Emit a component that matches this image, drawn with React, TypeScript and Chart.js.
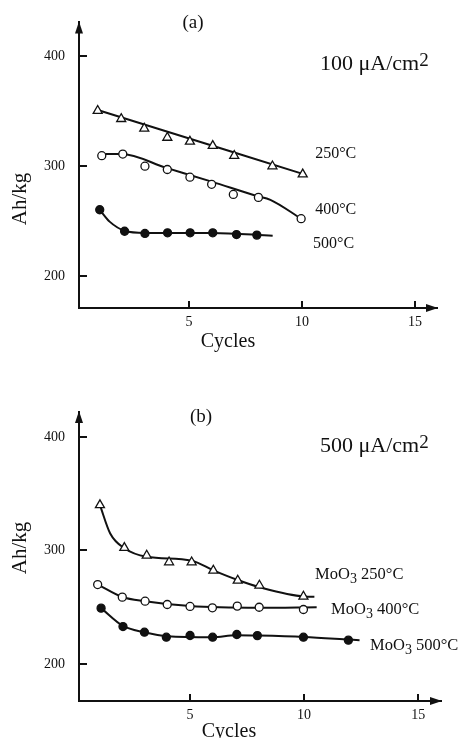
import React, { useEffect, useRef } from "react";
import { Chart, registerables } from "chart.js";

Chart.register(...registerables);

// ---------- data ----------
const xTicks = [5, 10, 15];
const yTicks = [200, 300, 400];

// Panel (a): 100 µA/cm²
const a250X = [0.96, 2.0, 3.02, 4.04, 5.04, 6.05, 7.0, 8.69, 10.03];
const a250Y = [350.3, 342.9, 334.2, 325.9, 322.3, 318.5, 309.5, 300.0, 292.6];
const a250CurveX = [0.96, 10.03];
const a250CurveY = [351, 293];

const a400X = [1.14, 2.07, 3.05, 4.04, 5.04, 6.0, 6.96, 8.07, 9.96];
const a400Y = [309.5, 311.0, 300.0, 297.0, 290.0, 283.6, 274.4, 271.7, 252.4];
const a400CurveX = [1.14, 2.0, 4.0, 6.0, 8.0, 8.6, 9.96];
const a400CurveY = [311, 311, 298.5, 286, 273, 269.5, 252.4];

const a500X = [1.05, 2.15, 3.05, 4.05, 5.05, 6.05, 7.1, 8.0];
const a500Y = [260.5, 241.0, 239.0, 239.6, 239.6, 239.6, 238.0, 237.5];
const a500CurveX = [1.05, 1.5, 2.15, 3.05, 6.0, 8.7];
const a500CurveY = [260.5, 249.5, 241.5, 239.5, 239.5, 237.0];

// Panel (b): 500 µA/cm²
const b250X = [1.05, 2.12, 3.1, 4.08, 5.07, 6.02, 7.09, 8.04, 9.97];
const b250Y = [340.0, 302.4, 295.6, 289.7, 289.7, 282.4, 273.6, 269.2, 259.5];
const b250CurveX = [1.05, 1.5, 2.12, 3.1, 5.07, 6.02, 7.09, 8.07, 10.0, 10.45];
const b250CurveY = [340, 315, 302, 294.5, 291, 282.5, 274, 267.5, 259.5, 259.3];

const b400X = [0.95, 2.03, 3.03, 4.0, 5.0, 5.98, 7.07, 8.03, 9.97];
const b400Y = [270.0, 258.9, 255.3, 252.4, 250.7, 249.5, 251.0, 250.0, 248.0];
const b400CurveX = [0.95, 2.03, 3.03, 5.0, 8.0, 10.55];
const b400CurveY = [270, 259, 255.3, 251, 249.5, 250];

const b500X = [1.1, 2.06, 3.0, 3.96, 5.0, 5.99, 7.05, 7.95, 9.97, 11.94];
const b500Y = [249.2, 233.0, 228.0, 223.6, 225.1, 223.6, 226.0, 225.0, 223.6, 221.0];
const b500CurveX = [1.1, 2.06, 3.0, 4.0, 6.0, 7.0, 8.0, 10.0, 12.0, 12.43];
const b500CurveY = [249.2, 233.5, 228, 224.5, 223.6, 225.3, 225, 223.8, 221.5, 221];

const tempLabels = ["250°C", "400°C", "500°C"];
const compoundBase = "MoO";
const compoundSub = "3";
const densityA = "100";
const densityB = "500";
const densityUnit = " μA/cm";
const densitySup = "2";
const xTitle = "Cycles";
const yTitle = "Ah/kg";
const panelNames = ["(a)", "(b)"];

// ---------- styling ----------
const INK = "#111111";
const SERIF = "'Liberation Serif', 'DejaVu Serif', serif";

type Seg = { t: string; size: number; dy: number };
type Series = { mx: number[]; my: number[]; cx: number[]; cy: number[]; style: "triangle" | "open" | "filled" };
type LabelAt = { x: number; y: number; segs: Seg[] };
type PanelCfg = {
  xMin: number; xMax: number; yMin: number; yMax: number;
  padTop: number; padRight: number; axisBottom: number;
  series: Series[];
  labels: LabelAt[];
  name: string; namePos: [number, number];
  density: Seg[]; densityPos: [number, number];
  xTitlePos: [number, number];
  yTitlePos: [number, number];
};

const W = 462;
const H = 369;
const Y_AXIS_X = 79;

function drawSegs(ctx: CanvasRenderingContext2D, segs: Seg[], x: number, y: number) {
  let cx = x;
  for (const s of segs) {
    ctx.font = `${s.size}px ${SERIF}`;
    ctx.fillText(s.t, cx, y + s.dy);
    cx += ctx.measureText(s.t).width;
  }
}

const decor = {
  id: "decor",
  afterDraw(chart: any, _args: any, opts: any) {
    const cfg: PanelCfg = opts.cfg;
    const { ctx, chartArea } = chart;
    const xs = chart.scales.x;
    const ys = chart.scales.y;
    ctx.save();
    ctx.strokeStyle = INK;
    ctx.fillStyle = INK;
    ctx.lineWidth = 2;
    // inward tick marks
    ys.ticks.forEach((t: any) => {
      const py = Math.round(ys.getPixelForValue(t.value));
      ctx.beginPath();
      ctx.moveTo(chartArea.left, py);
      ctx.lineTo(chartArea.left + 8, py);
      ctx.stroke();
    });
    xs.ticks.forEach((t: any) => {
      const px = Math.round(xs.getPixelForValue(t.value));
      ctx.beginPath();
      ctx.moveTo(px, chartArea.bottom);
      ctx.lineTo(px, chartArea.bottom - 7);
      ctx.stroke();
    });
    // arrow heads
    ctx.beginPath();
    ctx.moveTo(chartArea.left, chartArea.top - 1);
    ctx.lineTo(chartArea.left - 4, chartArea.top + 11);
    ctx.lineTo(chartArea.left + 4, chartArea.top + 11);
    ctx.closePath();
    ctx.fill();
    ctx.beginPath();
    ctx.moveTo(chartArea.right + 1, chartArea.bottom);
    ctx.lineTo(chartArea.right - 11, chartArea.bottom - 4);
    ctx.lineTo(chartArea.right - 11, chartArea.bottom + 4);
    ctx.closePath();
    ctx.fill();

    ctx.textBaseline = "alphabetic";
    ctx.textAlign = "left";
    // series labels (anchored in data units)
    for (const l of cfg.labels) {
      drawSegs(ctx, l.segs, xs.getPixelForValue(l.x), ys.getPixelForValue(l.y));
    }
    // density label
    drawSegs(ctx, cfg.density, cfg.densityPos[0], cfg.densityPos[1]);
    // panel name
    ctx.textAlign = "center";
    ctx.font = `19px ${SERIF}`;
    ctx.fillText(cfg.name, cfg.namePos[0], cfg.namePos[1]);
    // axis titles
    ctx.font = `20px ${SERIF}`;
    ctx.fillText(xTitle, cfg.xTitlePos[0], cfg.xTitlePos[1]);
    ctx.save();
    ctx.translate(cfg.yTitlePos[0], cfg.yTitlePos[1]);
    ctx.rotate(-Math.PI / 2);
    ctx.font = `21px ${SERIF}`;
    ctx.fillText(yTitle, 0, 0);
    ctx.restore();
    ctx.restore();
  },
};

function pts(xs: number[], ys: number[]) {
  return xs.map((x, i) => ({ x, y: ys[i] }));
}

function buildConfig(cfg: PanelCfg): any {
  const datasets: any[] = [];
  cfg.series.forEach((s) => {
    datasets.push({
      data: pts(s.mx, s.my),
      showLine: false,
      pointStyle: s.style === "triangle" ? "triangle" : "circle",
      pointRadius: s.style === "triangle" ? 5.2 : 4,
      pointBackgroundColor: s.style === "filled" ? INK : "#ffffff",
      pointBorderColor: INK,
      pointBorderWidth: 1.3,
      order: 0,
    });
    datasets.push({
      data: pts(s.cx, s.cy),
      showLine: true,
      pointRadius: 0,
      borderColor: INK,
      borderWidth: 2,
      cubicInterpolationMode: "monotone",
      fill: false,
      order: 1,
    });
  });
  const tickFont = { family: SERIF, size: 14 };
  return {
    type: "scatter",
    data: { datasets },
    plugins: [decor],
    options: {
      responsive: false,
      animation: false,
      events: [],
      layout: { padding: { left: 0, top: cfg.padTop, right: cfg.padRight, bottom: 0 } },
      plugins: {
        legend: { display: false },
        tooltip: { enabled: false },
        decor: { cfg },
      },
      scales: {
        x: {
          type: "linear",
          min: cfg.xMin,
          max: cfg.xMax,
          afterBuildTicks: (s: any) => { s.ticks = xTicks.map((v) => ({ value: v })); },
          afterFit: (s: any) => { s.height = H - cfg.axisBottom; },
          grid: { display: false, drawTicks: false },
          border: { display: true, color: INK, width: 2 },
          ticks: { color: INK, font: tickFont, padding: 6, maxRotation: 0, callback: (v: any) => String(v) },
        },
        y: {
          type: "linear",
          min: cfg.yMin,
          max: cfg.yMax,
          afterBuildTicks: (s: any) => { s.ticks = yTicks.map((v) => ({ value: v })); },
          afterFit: (s: any) => { s.width = Y_AXIS_X; },
          grid: { display: false, drawTicks: false },
          border: { display: true, color: INK, width: 2 },
          ticks: { color: INK, font: tickFont, padding: 14, callback: (v: any) => String(v) },
        },
      },
    },
  };
}

const mo = (t: string): Seg[] => [
  { t: compoundBase, size: 16.5, dy: 0 },
  { t: compoundSub, size: 14, dy: 4 },
  { t: " " + t, size: 16.5, dy: 0 },
];

const panelA: PanelCfg = {
  xMin: 0.133, xMax: 15.97, yMin: 171.4, yMax: 430.4,
  padTop: 18, padRight: 25, axisBottom: 308,
  series: [
    { mx: a250X, my: a250Y, cx: a250CurveX, cy: a250CurveY, style: "triangle" },
    { mx: a400X, my: a400Y, cx: a400CurveX, cy: a400CurveY, style: "open" },
    { mx: a500X, my: a500Y, cx: a500CurveX, cy: a500CurveY, style: "filled" },
  ],
  labels: [
    { x: 10.58, y: 307.1, segs: [{ t: tempLabels[0], size: 16, dy: 0 }] },
    { x: 10.58, y: 256.3, segs: [{ t: tempLabels[1], size: 16, dy: 0 }] },
    { x: 10.49, y: 225.9, segs: [{ t: tempLabels[2], size: 16, dy: 0 }] },
  ],
  name: panelNames[0], namePos: [193, 28],
  density: [
    { t: densityA + densityUnit, size: 22, dy: 0 },
    { t: densitySup, size: 19, dy: -4 },
  ],
  densityPos: [320, 70],
  xTitlePos: [228, 347],
  yTitlePos: [26, 199],
};

const panelB: PanelCfg = {
  xMin: 0.132, xMax: 16.0, yMin: 167.4, yMax: 422.0,
  padTop: 43, padRight: 21, axisBottom: 332,
  series: [
    { mx: b250X, my: b250Y, cx: b250CurveX, cy: b250CurveY, style: "triangle" },
    { mx: b400X, my: b400Y, cx: b400CurveX, cy: b400CurveY, style: "open" },
    { mx: b500X, my: b500Y, cx: b500CurveX, cy: b500CurveY, style: "filled" },
  ],
  labels: [
    { x: 10.48, y: 274.9, segs: mo(tempLabels[0]) },
    { x: 11.18, y: 244.1, segs: mo(tempLabels[1]) },
    { x: 12.89, y: 212.3, segs: mo(tempLabels[2]) },
  ],
  name: panelNames[1], namePos: [201, 53],
  density: [
    { t: densityB + densityUnit, size: 22, dy: 0 },
    { t: densitySup, size: 19, dy: -4 },
  ],
  densityPos: [320, 83],
  xTitlePos: [229, 368],
  yTitlePos: [26, 179],
};

function Panel({ cfg }: { cfg: PanelCfg }) {
  const ref = useRef<HTMLCanvasElement>(null);
  useEffect(() => {
    const chart = new Chart(ref.current as HTMLCanvasElement, buildConfig(cfg));
    return () => chart.destroy();
  }, [cfg]);
  return <canvas ref={ref} width={W} height={H} style={{ display: "block", width: W, height: H }} />;
}

export default function App() {
  return (
    <div style={{ position: "absolute", left: 0, top: 0, width: W, height: 2 * H, background: "#ffffff", overflow: "hidden" }}>
      <Panel cfg={panelA} />
      <Panel cfg={panelB} />
    </div>
  );
}
